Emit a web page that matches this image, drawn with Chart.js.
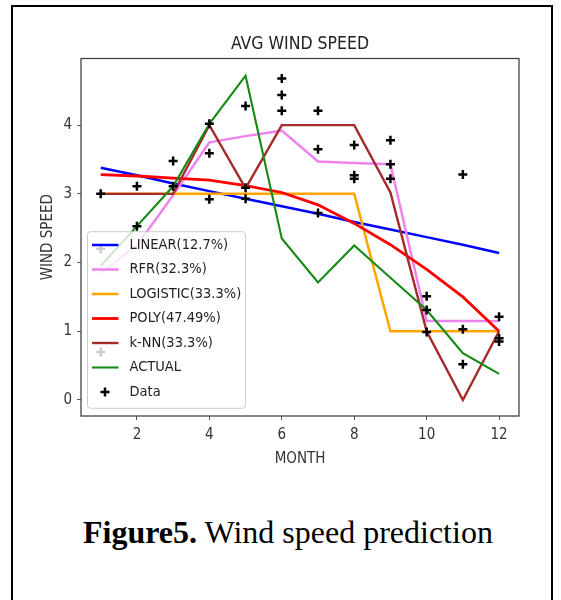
<!DOCTYPE html>
<html lang="en">
<head>
    <meta charset="UTF-8">
    <title>AVG Wind Speed</title>
    <script src="https://cdn.jsdelivr.net/npm/chart.js"></script>
    <style>
        body {
            margin: 0;
            background-color: white;
            width: 561px;
            height: 600px;
            overflow: hidden;
            position: relative;
        }
        .frame {
            position: absolute;
            left: 11px;
            top: 5px;
            width: 538px;
            height: 700px;
            border: 2px solid #000;
        }
        .chart-box {
            position: absolute;
            left: 0;
            top: 0;
            width: 561px;
            height: 480px;
        }
        .caption {
            position: absolute;
            left: 83px;
            top: 516px;
            font-family: "Liberation Serif", "Times New Roman", serif;
            font-size: 32px;
            line-height: 32px;
            white-space: nowrap;
            color: #000;
        }
    </style>
</head>
<body>
<div class="frame"></div>
<div class="chart-box">
    <canvas id="wind-chart"></canvas>
</div>
<div class="caption"><b>Figure5.</b> Wind speed prediction</div>
<script>
    // months on the x axis
    const months = [1, 2, 3, 4, 5, 6, 7, 8, 9, 10, 11, 12];

    // model predictions per month
    const linear   = [3.38, 3.27, 3.15, 3.04, 2.93, 2.82, 2.71, 2.59, 2.48, 2.37, 2.26, 2.14];
    const rfr      = [1.85, 2.25, 2.98, 3.75, 3.84, 3.92, 3.47, 3.45, 3.43, 1.15, 1.15, 1.15];
    const logistic = [3, 3, 3, 3, 3, 3, 3, 3, 1, 1, 1, 1];
    const poly     = [3.28, 3.26, 3.23, 3.2, 3.12, 3.02, 2.84, 2.57, 2.26, 1.9, 1.5, 1.0];
    const knn      = [3, 3, 3, 4, 3.08, 4, 4, 4, 3.02, 1, 0, 1];
    const actual   = [1.95, 2.53, 3.11, 4.02, 4.72, 2.35, 1.71, 2.25, 1.78, 1.31, 0.68, 0.38];

    // raw observations
    const dataMonths = [1, 1, 1, 2, 2, 3, 3, 4, 4, 4, 5, 5, 5, 6, 6, 6, 7, 7, 7,
                        8, 8, 8, 9, 9, 9, 10, 10, 10, 11, 11, 11, 12, 12, 12];
    const dataValues = [3.0, 2.2, 0.7, 3.11, 2.53, 3.48, 3.11, 4.02, 3.59, 2.92, 4.28, 3.09, 2.93,
                        4.68, 4.44, 4.21, 4.21, 3.65, 2.72, 3.71, 3.27, 3.22, 3.78, 3.43, 3.22,
                        1.51, 1.31, 0.99, 3.28, 1.03, 0.52, 1.21, 0.90, 0.85];

    const xTicks = [2, 4, 6, 8, 10, 12];
    const yTicks = [0, 1, 2, 3, 4];

    const FONT = "'DejaVu Sans Condensed', 'DejaVu Sans', sans-serif";

    function toPoints(ys) {
        return months.map((m, i) => ({x: m, y: ys[i]}));
    }

    function lineSet(label, values, color, width, order) {
        return {
            label: label,
            data: toPoints(values),
            borderColor: color,
            backgroundColor: color,
            borderWidth: width,
            pointRadius: 0,
            tension: 0,
            order: order
        };
    }

    // frame + legend drawn inside the plot, like matplotlib's
    const legendBox = {
        id: 'legendBox',
        afterDatasetsDraw(chart) {
            const {ctx, chartArea: a} = chart;
            ctx.save();
            ctx.strokeStyle = '#444';
            ctx.lineWidth = 1.3;
            ctx.strokeRect(a.left, a.top, a.right - a.left, a.bottom - a.top);

            const x0 = a.left + 6.5, y0 = a.bottom - 184.3, w = 158, h = 176.6;
            ctx.beginPath();
            if (ctx.roundRect) ctx.roundRect(x0, y0, w, h, 3); else ctx.rect(x0, y0, w, h);
            ctx.fillStyle = 'rgba(255,255,255,0.8)';
            ctx.fill();
            ctx.strokeStyle = 'rgba(200,200,200,0.9)';
            ctx.lineWidth = 1;
            ctx.stroke();

            ctx.font = '14.5px ' + FONT;
            ctx.textBaseline = 'middle';
            chart.data.datasets.forEach((ds, i) => {
                const y = y0 + 13.3 + i * 24.5;
                if (ds.showLine === false) {
                    const cx = x0 + 17.5;
                    ctx.strokeStyle = '#000';
                    ctx.lineWidth = 2.5;
                    ctx.beginPath();
                    ctx.moveTo(cx - 4.5, y); ctx.lineTo(cx + 4.5, y);
                    ctx.moveTo(cx, y - 4.5); ctx.lineTo(cx, y + 4.5);
                    ctx.stroke();
                } else {
                    ctx.strokeStyle = ds.borderColor;
                    ctx.lineWidth = ds.borderWidth;
                    ctx.beginPath();
                    ctx.moveTo(x0 + 4.5, y);
                    ctx.lineTo(x0 + 31, y);
                    ctx.stroke();
                }
                ctx.fillStyle = '#222';
                ctx.fillText(ds.label, x0 + 42, y);
            });
            ctx.restore();
        }
    };

    const ctx = document.getElementById('wind-chart').getContext('2d');
    new Chart(ctx, {
        type: 'line',
        data: {
            datasets: [
                lineSet('LINEAR(12.7%)', linear, '#0000ff', 2.5, 7),
                lineSet('RFR(32.3%)', rfr, '#ee82ee', 2.5, 6),
                lineSet('LOGISTIC(33.3%)', logistic, '#ffa500', 2.5, 5),
                lineSet('POLY(47.49%)', poly, '#ff0000', 2.8, 4),
                lineSet('k-NN(33.3%)', knn, '#a52a2a', 2.4, 3),
                lineSet('ACTUAL', actual, '#138a13', 2.1, 2),
                {
                    label: 'Data',
                    data: dataMonths.map((m, i) => ({x: m, y: dataValues[i]})),
                    showLine: false,
                    pointStyle: 'cross',
                    pointRadius: 4.5,
                    pointBorderWidth: 2.5,
                    borderColor: '#000',
                    backgroundColor: '#000',
                    order: 1
                }
            ]
        },
        options: {
            responsive: true,
            maintainAspectRatio: false,
            animation: false,
            events: [],
            layout: {padding: {left: 0, right: 42, top: 0, bottom: 0}},
            plugins: {
                legend: {display: false},
                tooltip: {enabled: false},
                title: {
                    display: true,
                    text: 'AVG WIND SPEED',
                    fullSize: false,
                    color: '#222',
                    font: {family: FONT, size: 17.5, weight: 'normal'},
                    padding: {top: 33.5, bottom: 4}
                }
            },
            scales: {
                x: {
                    type: 'linear',
                    min: 0.456,
                    max: 12.55,
                    afterBuildTicks: s => { s.ticks = xTicks.map(v => ({value: v})); },
                    afterFit: s => { s.height = 64; },
                    grid: {drawOnChartArea: false, tickLength: 4, tickColor: '#555'},
                    border: {display: false},
                    ticks: {color: '#333', padding: 6.5, font: {family: FONT, size: 15}},
                    title: {
                        display: true, text: 'MONTH', color: '#333',
                        font: {family: FONT, size: 15},
                        padding: {top: 0, bottom: 12}
                    }
                },
                y: {
                    type: 'linear',
                    min: -0.233,
                    max: 4.97,
                    afterBuildTicks: s => { s.ticks = yTicks.map(v => ({value: v})); },
                    afterFit: s => { s.width = 81; },
                    grid: {drawOnChartArea: false, tickLength: 4, tickColor: '#555'},
                    border: {display: false},
                    ticks: {color: '#333', padding: 5, font: {family: FONT, size: 15}},
                    title: {
                        display: true, text: 'WIND SPEED', color: '#333',
                        font: {family: FONT, size: 15},
                        padding: {top: 39.3, bottom: 0}
                    }
                }
            }
        },
        plugins: [legendBox]
    });
</script>
</body>
</html>
